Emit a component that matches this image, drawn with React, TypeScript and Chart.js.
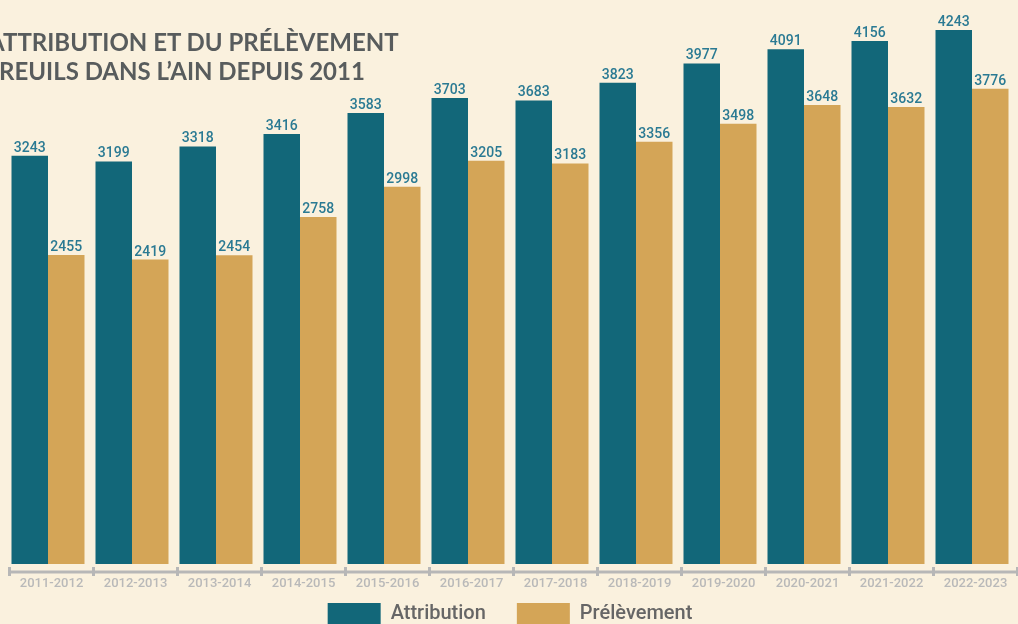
import React, { useEffect, useRef } from "react";
import { Chart, registerables } from "chart.js";

Chart.register(...registerables);

const seasons = [
  "2011-2012", "2012-2013", "2013-2014", "2014-2015", "2015-2016", "2016-2017",
  "2017-2018", "2018-2019", "2019-2020", "2020-2021", "2021-2022", "2022-2023",
];
const attribution = [3243, 3199, 3318, 3416, 3583, 3703, 3683, 3823, 3977, 4091, 4156, 4243];
const prelevement = [2455, 2419, 2454, 2758, 2998, 3205, 3183, 3356, 3498, 3648, 3632, 3776];
const titleLine1 = "ATTRIBUTION ET DU PRÉLÈVEMENT";
const titleLine2 = "REUILS DANS L’AIN DEPUIS 2011";

const TEAL = "#126779";
const GOLD = "#d4a557";
const BG = "#faf1de";
const AXIS = "#b7b7b7";
const LABEL_OFFSET = 3.5;

const valueLabels = {
  id: "valueLabels",
  afterDatasetsDraw(chart: any) {
    const ctx = chart.ctx;
    ctx.save();
    ctx.font = "500 14px Roboto";
    ctx.fillStyle = "#2a7a93";
    ctx.textAlign = "center";
    ctx.textBaseline = "alphabetic";
    chart.data.datasets.forEach((ds: any, i: number) => {
      const meta = chart.getDatasetMeta(i);
      meta.data.forEach((el: any, j: number) => {
        ctx.fillText(String(ds.data[j]), el.x, el.y - 4);
      });
    });
    ctx.restore();
  },
};

// x axis line, category separators and category labels, placed from the x scale
const axisMarks = {
  id: "axisMarks",
  afterDraw(chart: any) {
    const x = chart.scales.x;
    const ctx = chart.ctx;
    const y = chart.chartArea.bottom;
    ctx.save();
    ctx.strokeStyle = AXIS;
    ctx.lineWidth = 3;
    ctx.beginPath();
    ctx.moveTo(x.left + LABEL_OFFSET - 1, y);
    ctx.lineTo(chart.width, y);
    ctx.stroke();
    const n = x.ticks.length;
    for (let i = 0; i <= n; i++) {
      let px: number;
      if (i === 0) px = x.left;
      else if (i === n) px = x.right;
      else px = (x.getPixelForTick(i - 1) + x.getPixelForTick(i)) / 2;
      px += LABEL_OFFSET;
      ctx.beginPath();
      ctx.moveTo(px, y - 5);
      ctx.lineTo(px, y + 4);
      ctx.stroke();
    }
    ctx.font = "500 13px Roboto";
    ctx.fillStyle = "#b9b9b9";
    ctx.textAlign = "center";
    ctx.textBaseline = "middle";
    for (let i = 0; i < n; i++) {
      ctx.fillText(String(chart.data.labels[i]), x.getPixelForTick(i) + LABEL_OFFSET, y + 12);
    }
    ctx.restore();
  },
};

export default function App() {
  const ref = useRef<HTMLCanvasElement | null>(null);

  useEffect(() => {
    if (!ref.current) return;
    const chart = new Chart(ref.current, {
      type: "bar",
      data: {
        labels: seasons,
        datasets: [
          { label: "Attribution", data: attribution, backgroundColor: TEAL },
          { label: "Prélèvement", data: prelevement, backgroundColor: GOLD },
        ],
      },
      options: {
        animation: false,
        responsive: false,
        maintainAspectRatio: false,
        layout: { padding: { left: 6, right: 4, top: 30, bottom: 0 } },
        datasets: { bar: { categoryPercentage: 73 / 84, barPercentage: 1 } },
        scales: {
          x: {
            grid: { display: false, drawTicks: false },
            border: { display: false },
            ticks: { display: false },
          },
          y: {
            display: false,
            min: -63.5,
            max: 4243,
          },
        },
        plugins: {
          tooltip: { enabled: false },
          legend: {
            position: "bottom",
            labels: {
              boxWidth: 53,
              boxHeight: 21,
              color: "#666666",
              padding: 31,
              font: { family: "Roboto", size: 20, weight: "500" },
            },
          },
        },
      },
      plugins: [valueLabels, axisMarks],
    });
    return () => chart.destroy();
  }, []);

  const titleStyle: React.CSSProperties = {
    position: "absolute",
    fontFamily: "Lato",
    fontWeight: 700,
    fontSize: 24,
    lineHeight: "29px",
    color: "#585c5d",
    whiteSpace: "nowrap",
  };

  return (
    <div
      style={{
        position: "fixed",
        left: 0,
        top: 0,
        width: 1018,
        height: 624,
        overflow: "hidden",
        background: BG,
      }}
    >
      <canvas ref={ref} width={1018} height={634} style={{ display: "block" }} />
      <div style={{ ...titleStyle, left: -12, top: 27 }}>{titleLine1}</div>
      <div style={{ ...titleStyle, left: -1, top: 56 }}>{titleLine2}</div>
    </div>
  );
}
